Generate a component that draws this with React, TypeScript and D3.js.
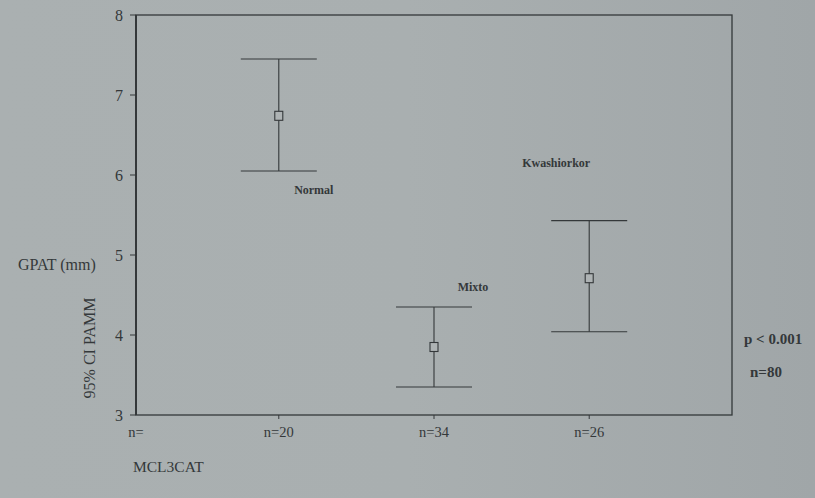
import React from 'react'
import * as d3 from 'd3'

// error bar data (95% CI)
const groups = ['Normal', 'Mixto', 'Kwashiorkor']
const counts = ['n=20', 'n=34', 'n=26']
const means = [6.74, 3.85, 4.71]
const lower = [6.05, 3.35, 4.04]
const upper = [7.45, 4.35, 5.43]
const yTicks = [3, 4, 5, 6, 7, 8]

const W = 815
const H = 498
const margin = { top: 15, right: 83, bottom: 83, left: 136 }

const ink = '#34383a'
const serif = '"Liberation Serif", "DejaVu Serif", serif'

export default function App() {
  const x = d3.scaleLinear()
    .domain([0.08, 3.92])
    .range([margin.left, W - margin.right])
  const y = d3.scaleLinear()
    .domain([3, 8])
    .range([H - margin.bottom, margin.top])

  const x0 = x.range()[0]
  const x1 = x.range()[1]
  const y0 = y.range()[0]
  const y1 = y.range()[1]
  const cap = 38

  // labels placed beside each bar, offsets relative to bar
  const labelPos = [
    { dx: 35, v: 5.76 },
    { dx: 39, v: 4.55 },
    { dx: -33, v: 6.1 }
  ]

  return (
    <svg width={W} height={H} style={{ position: 'absolute', left: 0, top: 0 }}>
      <defs>
        <linearGradient id="bg" x1="0" y1="0" x2="1" y2="0">
          <stop offset="0" stopColor="#aab0b1" />
          <stop offset="0.5" stopColor="#a9afb0" />
          <stop offset="1" stopColor="#a0a6a8" />
        </linearGradient>
      </defs>
      <rect width={W} height={H} fill="url(#bg)" />

      {/* plot frame */}
      <rect x={x0} y={y1} width={x1 - x0} height={y0 - y1} fill="none" stroke={ink} strokeWidth={1.3} />
      <line x1={x0} x2={x0} y1={y1} y2={y0} stroke={ink} strokeWidth={2} />

      {/* y axis */}
      {yTicks.map(t => (
        <g key={t}>
          <line x1={x0 - 6} x2={x0} y1={y(t)} y2={y(t)} stroke={ink} strokeWidth={1} />
          <text x={x0 - 13} y={y(t)} dy="0.35em" textAnchor="end" fontFamily={serif} fontSize={16} fill={ink}>{t}</text>
        </g>
      ))}

      {/* x axis */}
      <text x={x0} y={y0 + 22} textAnchor="middle" fontFamily={serif} fontSize={14.5} fill={ink}>n=</text>
      {counts.map((c, i) => (
        <g key={c}>
          <line x1={x(i + 1)} x2={x(i + 1)} y1={y0} y2={y0 + 4} stroke={ink} strokeWidth={1} />
          <text x={x(i + 1)} y={y0 + 22} textAnchor="middle" fontFamily={serif} fontSize={14.5} fill={ink}>{c}</text>
        </g>
      ))}

      {/* error bars */}
      {groups.map((g, i) => {
        const cx = x(i + 1)
        return (
          <g key={g} stroke={ink} strokeWidth={1.1} fill="none">
            <line x1={cx} x2={cx} y1={y(upper[i])} y2={y(lower[i])} />
            <line x1={cx - cap} x2={cx + cap} y1={y(upper[i])} y2={y(upper[i])} />
            <line x1={cx - cap} x2={cx + cap} y1={y(lower[i])} y2={y(lower[i])} />
            <rect x={cx - 4} y={y(means[i]) - 4.5} width={8} height={9} fill="#aeb3b4" />
          </g>
        )
      })}

      {/* group labels */}
      {groups.map((g, i) => (
        <text key={g} x={x(i + 1) + labelPos[i].dx} y={y(labelPos[i].v)} textAnchor="middle"
          fontFamily={serif} fontSize={12} fontWeight="bold" fill={ink}>{g}</text>
      ))}

      {/* annotations */}
      <text x={744} y={344} fontFamily={serif} fontSize={15} fontWeight="bold" fill={ink}>p &lt; 0.001</text>
      <text x={750} y={377} fontFamily={serif} fontSize={15} fontWeight="bold" fill={ink}>n=80</text>

      {/* axis titles */}
      <text x={18} y={270} fontFamily={serif} fontSize={16} fill={ink}>GPAT (mm)</text>
      <text transform={`translate(95,348) rotate(-90)`} textAnchor="middle" fontFamily={serif} fontSize={16} fill={ink}>95% CI PAMM</text>
      <text x={133} y={472} fontFamily={serif} fontSize={15.5} fill={ink}>MCL3CAT</text>
    </svg>
  )
}
